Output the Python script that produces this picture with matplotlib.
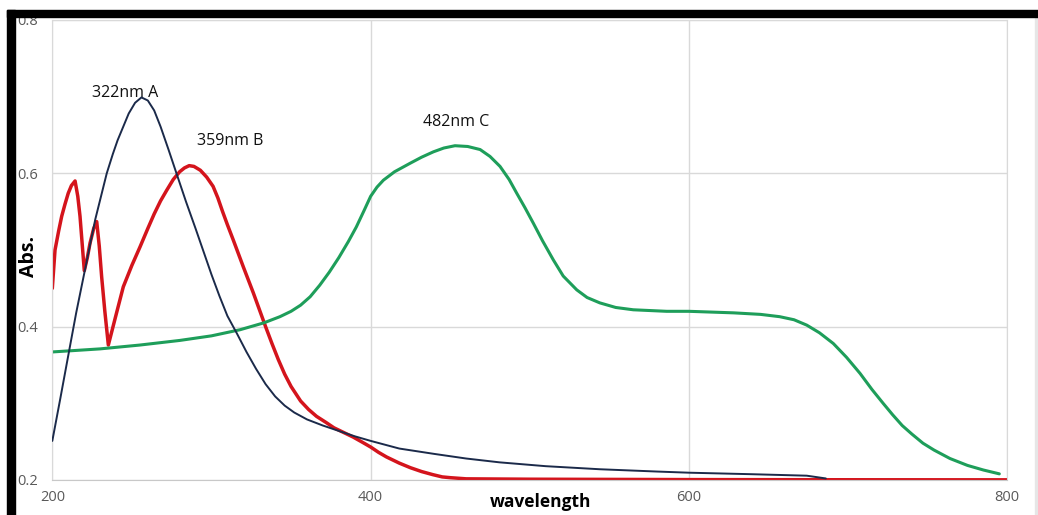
import matplotlib.pyplot as plt
from matplotlib.patches import Rectangle

plt.rcParams['font.family'] = ['Open Sans', 'DejaVu Sans']

# absorbance spectra
wl_a = [200, 205, 210.7, 215, 220.5, 227, 234.2, 238, 241, 244.6, 248, 252, 256, 260,
        264, 268, 273, 278, 284, 290, 295, 300, 305, 310, 316, 322, 328, 334, 340,
        346, 352, 360, 370, 380, 390, 400, 418, 440, 460, 481, 510, 544, 580, 600,
        640, 674, 686]
abs_a = [0.251, 0.306, 0.370, 0.418, 0.474, 0.540, 0.600, 0.625, 0.643, 0.661, 0.678, 0.692, 0.699, 0.695,
         0.682, 0.661, 0.631, 0.600, 0.563, 0.528, 0.498, 0.468, 0.440, 0.414, 0.391, 0.367, 0.345, 0.325, 0.309,
         0.297, 0.288, 0.279, 0.271, 0.264, 0.257, 0.251, 0.241, 0.234, 0.228, 0.223, 0.218, 0.214, 0.211, 0.2095,
         0.2075, 0.2056, 0.202]

wl_b = [200, 201.7, 204, 205.9, 208, 210, 212, 214.3, 216, 217.4, 218.8, 220.1, 222,
        223.7, 226, 227.9, 229.5, 231, 233, 235.2, 240, 244.6, 250, 255.1, 260, 264,
        268, 271.9, 276, 280, 283, 286, 289, 293, 297, 301, 304, 307, 310, 313.7, 320,
        326.3, 334, 338, 342, 346, 350, 356, 361, 366, 372, 377, 383, 389, 395, 400,
        405, 410, 418, 425, 432, 439, 445, 450, 460, 500, 600, 700, 800]
abs_b = [0.450, 0.500, 0.525, 0.544, 0.560, 0.574, 0.584, 0.590, 0.570, 0.544, 0.507, 0.473, 0.490,
         0.509, 0.528, 0.537, 0.505, 0.465, 0.420, 0.376, 0.415, 0.452, 0.480, 0.504, 0.528, 0.547,
         0.564, 0.578, 0.592, 0.602, 0.607, 0.610, 0.609, 0.604, 0.595, 0.583, 0.568, 0.550, 0.533, 0.513, 0.478,
         0.444, 0.400, 0.378, 0.357, 0.338, 0.322, 0.303, 0.292, 0.283, 0.275, 0.268, 0.262, 0.256, 0.249, 0.243,
         0.236, 0.230, 0.222, 0.216, 0.211, 0.207, 0.204, 0.203, 0.2015, 0.201, 0.2005, 0.2003, 0.2002]

wl_c = [200, 230, 255, 280, 300, 318, 333, 343, 350, 356, 362, 368, 374, 380, 386, 391,
        396, 400, 404, 408, 415, 424.7, 432, 439.4, 446, 453, 461, 468.8, 475, 481.3,
        487, 491.8, 497, 502.2, 508, 514.8, 521, 529.5, 536, 544, 554, 565, 586, 600,
        628, 645, 657, 666, 674, 682, 690.7, 699, 707.5, 715, 722, 728, 734, 740, 747,
        754, 764, 775, 785, 795]
abs_c = [0.367, 0.371, 0.376, 0.382, 0.388, 0.396, 0.405, 0.413, 0.420, 0.428, 0.439, 0.454, 0.471, 0.490, 0.511, 0.530,
         0.552, 0.570, 0.582, 0.591, 0.602, 0.613, 0.621, 0.628, 0.633, 0.636, 0.635, 0.631, 0.622, 0.609,
         0.592, 0.574, 0.555, 0.535, 0.512, 0.487, 0.466, 0.448, 0.438, 0.431, 0.425, 0.422, 0.420, 0.420,
         0.418, 0.416, 0.413, 0.409, 0.402, 0.392, 0.378, 0.360, 0.339, 0.318, 0.300, 0.285, 0.271, 0.260, 0.248,
         0.239, 0.228, 0.219, 0.213, 0.208]

peak_labels = ['322nm A', '359nm B', '482nm C']
label_x = [246, 311.5, 453.5]
label_y = [0.705, 0.642, 0.667]

fig = plt.figure(figsize=(10.38, 5.15), dpi=100)
ax = fig.add_axes([0.0504, 0.068, 0.92, 0.8932])

line_kw = dict(solid_joinstyle='round', solid_capstyle='round')
ax.plot(wl_a, abs_a, color='#1b2a4a', lw=1.4, zorder=3, **line_kw)
ax.plot(wl_b, abs_b, color='#d4141c', lw=2.5, zorder=2, **line_kw)
ax.plot(wl_c, abs_c, color='#1e9e5a', lw=2.2, zorder=2, **line_kw)

for txt, x, y in zip(peak_labels, label_x, label_y):
    ax.text(x, y, txt, ha='center', va='center', fontsize=11.5, color='#111111', zorder=1)

ax.set_xlim(200, 800)
ax.set_ylim(0.2, 0.8)
ax.set_xticks([200, 400, 600, 800])
ax.set_yticks([0.2, 0.4, 0.6, 0.8])
ax.set_yticklabels(['0.2', '0.4', '0.6', '0.8'])
ax.tick_params(length=0, labelsize=10.5, labelcolor='#595959')
ax.tick_params(axis='y', pad=10)
ax.tick_params(axis='x', pad=7)
ax.grid(True, color='#d9d9d9', lw=1)
ax.set_axisbelow(True)
for s in ax.spines.values():
    s.set_color('#d9d9d9')
ax.spines['bottom'].set_color('#c8c8c8')

ax.set_ylabel('Abs.', fontsize=14, fontweight='bold', labelpad=2)
ax.yaxis.set_label_coords(-0.014, 0.487)
fig.text(0.521, 0.025, 'wavelength', fontsize=12.5, fontweight='bold',
         ha='center', va='center')

# black frame on the left and top edges
fig.add_artist(Rectangle((0.0067, 0), 0.0077, 0.9806, transform=fig.transFigure,
                         color='black', zorder=10))
fig.add_artist(Rectangle((0.0067, 0.9676), 0.9933, 0.013, transform=fig.transFigure,
                         color='black', zorder=10))
fig.add_artist(Rectangle((0.9975, 0), 0.0015, 0.9676, transform=fig.transFigure,
                         color='#e6e6e6', zorder=9))

fig.savefig('out.png', dpi=100)
